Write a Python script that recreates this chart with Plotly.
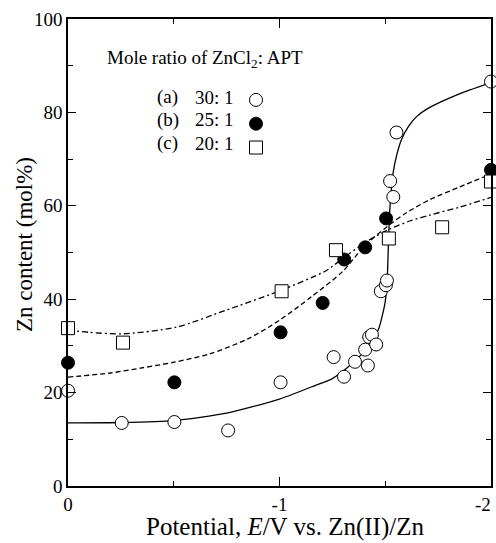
import plotly.graph_objects as go

# ---- data ----
a_x = [0, -0.254, -0.503, -0.757, -1.005, -1.256, -1.305, -1.357, -1.405, -1.418,
       -1.424, -1.437, -1.457, -1.479, -1.503, -1.508, -1.523, -1.538, -1.553, -2.0]
a_y = [20.4, 13.5, 13.7, 11.9, 22.2, 27.6, 23.4, 26.6, 29.2, 25.8,
       31.9, 32.4, 30.3, 41.7, 43.0, 44.0, 65.3, 61.9, 75.7, 86.6]

b_x = [0, -0.503, -1.005, -1.204, -1.306, -1.405, -1.504, -2.0]
b_y = [26.4, 22.2, 32.9, 39.2, 48.5, 51.1, 57.3, 67.7]

c_x = [0, -0.26, -1.01, -1.267, -1.517, -1.769, -2.0]
c_y = [33.8, 30.7, 41.7, 50.5, 53.0, 55.4, 65.2]

# fitted curves
fa_x = [0, -0.25, -0.5, -0.75, -1.0, -1.15, -1.25, -1.32, -1.38, -1.43, -1.47, -1.50,
        -1.51, -1.515, -1.52, -1.528, -1.537, -1.555, -1.577, -1.61, -1.648, -1.7, -1.8, -1.9, -2.0]
fa_y = [13.5, 13.6, 14.0, 15.6, 18.6, 21.2, 23.0, 25.3, 27.8, 30.5, 33.8, 39.5,
        45.0, 52.0, 58.0, 63.0, 67.0, 71.0, 74.2, 77.0, 79.1, 80.8, 83.0, 84.8, 86.4]

fb_x = [0, -0.2, -0.35, -0.5, -0.67, -0.85, -1.0, -1.15, -1.3, -1.4, -1.51, -1.6, -1.71, -1.85, -2.0]
fb_y = [23.3, 24.2, 25.3, 26.5, 28.3, 31.5, 35.5, 40.5, 46.0, 51.3, 55.6, 58.5, 61.3, 64.0, 66.8]

fc_x = [0, -0.1, -0.26, -0.51, -0.75, -0.99, -1.22, -1.29, -1.4, -1.52, -1.62, -1.71, -1.85, -2.0]
fc_y = [33.4, 32.9, 32.6, 34.0, 37.7, 41.6, 46.1, 48.4, 52.0, 55.0, 56.8, 58.0, 59.7, 61.8]

x_tickvals = [0, -1, -2]
x_ticktext = ["0", "-1", ""]
x_last_label = "-2"
y_tickvals = [0, 20, 40, 60, 80, 100]

legend_labels = ["(a)", "(b)", "(c)"]
legend_ratios = ["30: 1", "25: 1", "20: 1"]

x_title = "Potential, <i>E</i>/V vs. Zn(II)/Zn"
y_title = "Zn content (mol%)"

FONT = "Liberation Serif, Times New Roman, serif"

fig = go.Figure()

# curves
fig.add_trace(go.Scatter(x=fa_x, y=fa_y, mode="lines", showlegend=False,
                         line=dict(color="black", width=1.3, shape="spline", smoothing=0.6)))
fig.add_trace(go.Scatter(x=fb_x, y=fb_y, mode="lines", showlegend=False,
                         line=dict(color="black", width=1.3, shape="spline", smoothing=0.8,
                                   dash="5px,3px")))
fig.add_trace(go.Scatter(x=fc_x, y=fc_y, mode="lines", showlegend=False,
                         line=dict(color="black", width=1.3, shape="spline", smoothing=0.8,
                                   dash="6px,3px,2px,3px")))

# markers
fig.add_trace(go.Scatter(x=a_x, y=a_y, mode="markers", name=" ", cliponaxis=False,
                         marker=dict(symbol="circle", size=13, color="white",
                                     line=dict(color="black", width=1))))
fig.add_trace(go.Scatter(x=b_x, y=b_y, mode="markers", name=" ", cliponaxis=False,
                         marker=dict(symbol="circle", size=13, color="black",
                                     line=dict(color="black", width=1))))
fig.add_trace(go.Scatter(x=c_x, y=c_y, mode="markers", name=" ", cliponaxis=False,
                         marker=dict(symbol="square", size=13, color="white",
                                     line=dict(color="black", width=1))))

L, R, T, B = 68, 5, 19, 57
W, H = 496, 543
pw, ph = W - L - R, H - T - B

def px2paper(px, py):
    return (px - L) / pw, (H - B - py) / ph

annotations = []
x0, y0 = px2paper(105, 59)
annotations.append(dict(x=x0, y=y0, xref="paper", yref="paper", xanchor="left", yanchor="middle",
                        text="Mole ratio of ZnCl<sub>2</sub>: APT", showarrow=False,
                        font=dict(family=FONT, size=19, color="black")))
for i, (lab, rat) in enumerate(zip(legend_labels, legend_ratios)):
    py = 97 + 23 * i
    xa, ya = px2paper(155, py)
    annotations.append(dict(x=xa, y=ya, xref="paper", yref="paper", xanchor="left", yanchor="middle",
                            text=lab, showarrow=False, font=dict(family=FONT, size=19, color="black")))
    xb, yb = px2paper(193, py)
    annotations.append(dict(x=xb, y=yb, xref="paper", yref="paper", xanchor="left", yanchor="middle",
                            text=rat, showarrow=False, font=dict(family=FONT, size=19, color="black")))

# last x tick label, kept inside the picture as in the reference
annotations.append(dict(x=x_tickvals[-1], y=0, xref="x", yref="y", xanchor="right", yanchor="top",
                        xshift=2, yshift=-6, text=x_last_label, showarrow=False,
                        font=dict(family=FONT, size=19, color="black")))
# axis titles
xt, yt = px2paper(285, 527)
annotations.append(dict(x=xt, y=yt, xref="paper", yref="paper", xanchor="center", yanchor="middle",
                        text=x_title, showarrow=False, font=dict(family=FONT, size=25, color="black")))
xt, yt = px2paper(24, 245)
annotations.append(dict(x=xt, y=yt, xref="paper", yref="paper", xanchor="center", yanchor="middle",
                        text=y_title, textangle=-90, showarrow=False,
                        font=dict(family=FONT, size=23, color="black")))

lx, ly = px2paper(236, 83)

fig.update_layout(
    width=W, height=H,
    margin=dict(l=L, r=R, t=T, b=B, autoexpand=False),
    paper_bgcolor="white", plot_bgcolor="white",
    font=dict(family=FONT, color="black"),
    annotations=annotations,
    legend=dict(x=lx, y=ly, xanchor="left", yanchor="top", bgcolor="rgba(0,0,0,0)",
                font=dict(family=FONT, size=16), tracegroupgap=0, itemwidth=30),
    xaxis=dict(range=[0, -2], tickvals=x_tickvals, ticktext=x_ticktext,
               ticks="inside", ticklen=9, tickwidth=1.2, tickcolor="black",
               showline=True, linecolor="black", linewidth=1.5, mirror="ticks",
               showgrid=False, zeroline=False,
               tickfont=dict(family=FONT, size=19, color="black"),
               minor=dict(dtick=0.5, ticks="inside", ticklen=5, tickwidth=1.2, tickcolor="black", showgrid=False)),
    yaxis=dict(range=[0, 100], tickvals=y_tickvals,
               ticks="inside", ticklen=8, tickwidth=1.2, tickcolor="black",
               showline=True, linecolor="black", linewidth=1.5, mirror="ticks",
               showgrid=False, zeroline=False,
               tickfont=dict(family=FONT, size=19, color="black"),
               minor=dict(dtick=10, ticks="inside", ticklen=5, tickwidth=1.2, tickcolor="black", showgrid=False)),
)

fig.write_html("out.html", config={"displayModeBar": False},
               post_script="document.body.style.margin='0';document.body.style.overflow='hidden';")
